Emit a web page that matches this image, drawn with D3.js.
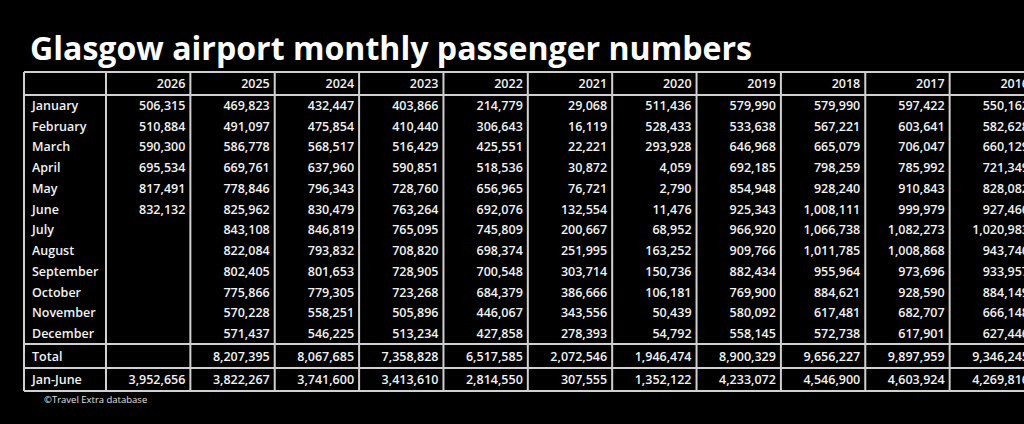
<!DOCTYPE html>
<html><head><meta charset="utf-8">
<script src="https://cdn.jsdelivr.net/npm/d3@7"></script>
<style>body{margin:0;background:#000;overflow:hidden}</style>
</head><body><div id="chart"></div>
<script>
var years = ["2026","2025","2024","2023","2022","2021","2020","2019","2018","2017","2016"];
var months = ["January","February","March","April","May","June","July","August","September","October","November","December"];
var y2026 = [506315,510884,590300,695534,817491,832132,null,null,null,null,null,null];
var y2025 = [469823,491097,586778,669761,778846,825962,843108,822084,802405,775866,570228,571437];
var y2024 = [432447,475854,568517,637960,796343,830479,846819,793832,801653,779305,558251,546225];
var y2023 = [403866,410440,516429,590851,728760,763264,765095,708820,728905,723268,505896,513234];
var y2022 = [214779,306643,425551,518536,656965,692076,745809,698374,700548,684379,446067,427858];
var y2021 = [29068,16119,22221,30872,76721,132554,200667,251995,303714,386666,343556,278393];
var y2020 = [511436,528433,293928,4059,2790,11476,68952,163252,150736,106181,50439,54792];
var y2019 = [579990,533638,646968,692185,854948,925343,966920,909766,882434,769900,580092,558145];
var y2018 = [579990,567221,665079,798259,928240,1008111,1066738,1011785,955964,884621,617481,572738];
var y2017 = [597422,603641,706047,785992,910843,999979,1082273,1008868,973696,928590,682707,617901];
var y2016 = [550162,582628,660129,721349,828082,927466,1020983,943746,933957,884149,666148,627446];
var totals = [null,8207395,8067685,7358828,6517585,2072546,1946474,8900329,9656227,9897959,9346245];
var janJune = [3952656,3822267,3741600,3413610,2814550,307555,1352122,4233072,4546900,4603924,4269816];
var series = [y2026,y2025,y2024,y2023,y2022,y2021,y2020,y2019,y2018,y2017,y2016];

var W = 1024, H = 424;
var svg = d3.select("#chart").append("svg").attr("width", W).attr("height", H);
var fmt = d3.format(",");
var font = "'Open Sans', 'Liberation Sans', sans-serif";

svg.append("text").attr("x", 30).attr("y", 60).attr("fill", "#fff")
  .attr("font-family", font).attr("font-weight", 700).attr("font-size", 32)
  .attr("textLength", 722).attr("lengthAdjust", "spacingAndGlyphs")
  .text("Glasgow airport monthly passenger numbers");

var x = d3.scaleBand().domain(years).range([106, 1034]);
var labelLeft = 24;
var rowY = d3.scaleBand().domain(months).range([95, 344]);
var headTop = 72, headBot = 95, totTop = 344, totBot = 368, jjBot = 391;

var line = "#d0d0d0";
function hl(y, x1, x2) { svg.append("line").attr("x1", x1).attr("x2", x2).attr("y1", y).attr("y2", y).attr("stroke", line).attr("stroke-width", 2); }
function vl(xx, y1, y2) { svg.append("line").attr("x1", xx).attr("x2", xx).attr("y1", y1).attr("y2", y2).attr("stroke", line).attr("stroke-width", 2); }

[headTop, headBot, totTop, totBot, jjBot].forEach(function (y) { hl(y, labelLeft, W); });
vl(labelLeft, headTop, jjBot);
years.forEach(function (yr) { vl(x(yr), headTop, jjBot); });

function txt(xx, y, s, anchor) {
  svg.append("text").attr("x", xx).attr("y", y).attr("fill", "#f2f2f2")
    .attr("font-family", font).attr("font-weight", 600).attr("font-size", 12.5)
    .attr("text-anchor", anchor || "end").attr("dominant-baseline", "central").text(s);
}
var pad = 5;
years.forEach(function (yr) { txt(x(yr) + x.bandwidth() - pad, (headTop + headBot) / 2, yr); });
months.forEach(function (m, i) {
  txt(labelLeft + 8, rowY(m) + rowY.bandwidth() / 2, m, "start");
  series.forEach(function (s, j) {
    if (s[i] != null) txt(x(years[j]) + x.bandwidth() - pad, rowY(m) + rowY.bandwidth() / 2, fmt(s[i]));
  });
});
txt(labelLeft + 8, (totTop + totBot) / 2, "Total", "start");
txt(labelLeft + 8, (totBot + jjBot) / 2, "Jan-June", "start");
years.forEach(function (yr, j) {
  if (totals[j] != null) txt(x(yr) + x.bandwidth() - pad, (totTop + totBot) / 2, fmt(totals[j]));
  txt(x(yr) + x.bandwidth() - pad, (totBot + jjBot) / 2, fmt(janJune[j]));
});
svg.append("text").attr("x", 44).attr("y", 399).attr("fill", "#e0e0e0")
  .attr("font-family", font).attr("font-size", 9.5).attr("dominant-baseline", "central")
  .text("©Travel Extra database");
</script></body></html>
